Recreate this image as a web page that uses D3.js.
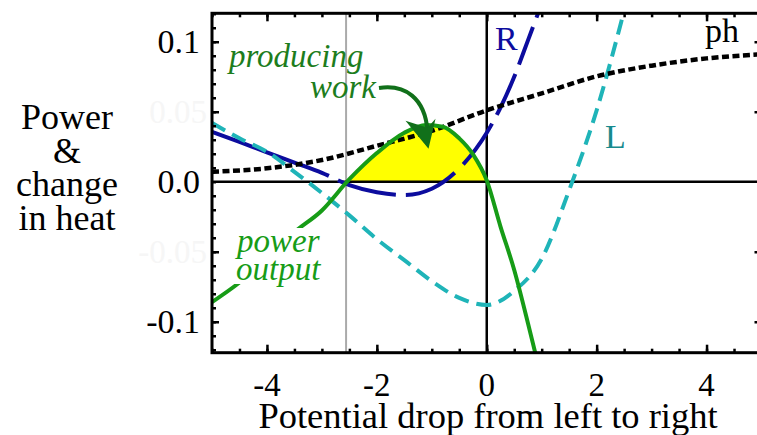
<!DOCTYPE html>
<html><head><meta charset="utf-8">
<script src="https://cdn.jsdelivr.net/npm/d3@7"></script>
<style>body{margin:0;background:#fff}svg{display:block}text{font-family:"Liberation Serif","Times New Roman",serif}</style>
</head><body><svg id="c" width="757" height="435"></svg>
<script>
// ---- data ----
const phX=[-5,-4,-3,-2,-1,0,1,2,3,4,5];
const phY=[0.0071,0.0096,0.0155,0.0257,0.0364,0.051,0.0631,0.0753,0.0829,0.0881,0.091];
const lX=[-5,-4.5,-4,-3.5,-3,-2.5,-2,-1.5,-1,-0.5,0,0.5,1,1.5,2,2.5];
const lY=[0.042,0.031,0.0214,0.0071,-0.008,-0.024,-0.041,-0.056,-0.071,-0.083,-0.088,-0.078,-0.055,-0.006,0.051,0.122];
const rX=[-5,-4.5,-4,-3.5,-3,-2.5,-2,-1.5,-1,-0.5,0,0.25,0.5,0.75,0.95];
const rY=[0.0357,0.0284,0.021,0.0137,0.0064,-0.0024,-0.0075,-0.0095,-0.005,0.0095,0.035,0.053,0.075,0.101,0.122];
const pX=[-5,-4.5,-4,-3.5,-3,-2.5,-2,-1.5,-1.1,-0.8,-0.5,-0.25,0,0.25,0.5,0.75,0.9];
const pY=[-0.086,-0.072,-0.055,-0.036,-0.0205,0.0018,0.0205,0.035,0.0405,0.0393,0.031,0.0196,0.001,-0.032,-0.063,-0.101,-0.125];
const xTicks=[-4,-2,0,2,4];
const yTickVals=[0.1,0,-0.1];
const yTickLabels=["0.1","0.0","-0.1"];
const ghostVals=[0.05,-0.05];
const ghostLabels=["0.05","-0.05"];
const markX=-2.56;
const yTitle=["Power","&","change","in heat"];
const xTitle="Potential drop from left to right";

// ---- layout ----
const svg=d3.select("#c");
const x=d3.scaleLinear().domain([-5,5]).range([212,761.5]);
const y=d3.scaleLinear().domain([-0.1221,0.1203]).range([352.7,13.3]);
const L=x.range()[0],R=x.range()[1],T=y.range()[1],B=y.range()[0];
const toPts=(xs,ys)=>xs.map((v,i)=>[v,ys[i]]);

svg.append("defs").append("clipPath").attr("id","clip").append("rect")
  .attr("x",L).attr("y",T).attr("width",R-L).attr("height",B-T);
svg.append("clipPath").attr("id","clipPos").append("rect")
  .attr("x",L).attr("y",T).attr("width",R-L).attr("height",y(0)-T);

const plot=svg.append("g").attr("clip-path","url(#clip)");
const line=d3.line().x(d=>x(d[0])).y(d=>y(d[1])).curve(d3.curveMonotoneX);

// yellow area (green above zero)
plot.append("g").attr("clip-path","url(#clipPos)").append("path")
  .datum(toPts(pX,pY))
  .attr("d",d3.area().x(d=>x(d[0])).y0(y(0)).y1(d=>y(d[1])).curve(d3.curveMonotoneX))
  .attr("fill","#ffff00");

// grey marker line
plot.append("line").attr("x1",x(markX)).attr("x2",x(markX)).attr("y1",T).attr("y2",B)
  .attr("stroke","#aaaaaa").attr("stroke-width",2);
// zero lines
plot.append("line").attr("x1",L).attr("x2",R).attr("y1",y(0)).attr("y2",y(0)).attr("stroke","#000").attr("stroke-width",2.5);
plot.append("line").attr("x1",x(0)).attr("x2",x(0)).attr("y1",T).attr("y2",B).attr("stroke","#000").attr("stroke-width",2.5);

plot.append("path").datum(toPts(rX,rY)).attr("d",line).attr("fill","none")
  .attr("stroke","#0c0c9e").attr("stroke-width",4).attr("stroke-dasharray","125,10,60,10,55,12,50,10,45,10,40,10");
plot.append("path").datum(toPts(lX,lY)).attr("d",line).attr("fill","none")
  .attr("stroke","#1fb4b8").attr("stroke-width",4).attr("stroke-dasharray","15,8");
plot.append("path").datum(toPts(phX,phY)).attr("d",line).attr("fill","none")
  .attr("stroke","#000").attr("stroke-width",4.5).attr("stroke-dasharray","7,3.5");
plot.append("path").datum(toPts(pX,pY)).attr("d",line).attr("fill","none")
  .attr("stroke","#179c17").attr("stroke-width",4);

// frame and ticks
const ax=svg.append("g");
function ticks(axisFn,scale,vals,size,tr){
  ax.append("g").attr("transform",tr).call(axisFn(scale).tickValues(vals).tickSize(size).tickFormat(""))
    .call(g=>g.select(".domain").remove())
    .call(g=>g.selectAll("line").attr("stroke","#000").attr("stroke-width",2.5));
}
const xMinor=d3.range(-5,5.01,0.5), xMajor=d3.range(-4,4.01,2);
const yMinor=d3.range(-12,13,1).map(v=>v/100), yMajor=[-0.1,-0.05,0.05,0.1];
ticks(d3.axisBottom,x,xMinor,-4,`translate(0,${B})`);
ticks(d3.axisBottom,x,xMajor,-8,`translate(0,${B})`);
ticks(d3.axisTop,x,xMinor,-4,`translate(0,${T})`);
ticks(d3.axisTop,x,xMajor,-8,`translate(0,${T})`);
ticks(d3.axisLeft,y,yMinor,-4,`translate(${L},0)`);
ticks(d3.axisLeft,y,yMajor,-7,`translate(${L},0)`);
ticks(d3.axisRight,y,yMajor,-7,`translate(${R},0)`);
svg.append("rect").attr("x",L).attr("y",T).attr("width",R-L).attr("height",B-T)
  .attr("fill","none").attr("stroke","#000").attr("stroke-width",3);

// faint ghost y labels
svg.selectAll(".gl").data(ghostVals).join("text").attr("class","gl")
  .attr("x",207).attr("y",d=>y(d)+11).attr("text-anchor","end").attr("font-size",33)
  .attr("fill","#f6f6f6").text((d,i)=>ghostLabels[i]);
// y labels
svg.selectAll(".yl").data(yTickVals).join("text").attr("class","yl")
  .attr("x",200).attr("y",d=>y(d)+11).attr("text-anchor","end").attr("font-size",34)
  .attr("fill","#000").text((d,i)=>yTickLabels[i]);
// x labels
svg.selectAll(".xl").data(xTicks).join("text").attr("class","xl")
  .attr("x",d=>x(d)).attr("y",396).attr("text-anchor","middle").attr("font-size",33)
  .attr("fill","#000").text(d=>String(d));
svg.append("text").attr("x",488).attr("y",428).attr("text-anchor","middle").attr("font-size",36.5).text(xTitle);
svg.selectAll(".yt").data(yTitle).join("text").attr("class","yt")
  .attr("x",67).attr("y",(d,i)=>129+i*33.5).attr("text-anchor","middle").attr("font-size",36).text(d=>d);

// annotations
const ann=svg.append("g").attr("font-style","italic").attr("font-size",33);
const po=ann.append("g");
po.append("rect").attr("x",234).attr("y",228).attr("width",92).attr("height",56).attr("fill","#fff");
po.append("text").attr("x",237).attr("y",252).attr("fill","#179c17").text("power");
po.append("text").attr("x",236).attr("y",280).attr("fill","#179c17").text("output");
ann.append("text").attr("x",229).attr("y",67).attr("fill","#1d7d1d").text("producing");
ann.append("text").attr("x",310).attr("y",98).attr("fill","#1d7d1d").text("work");

// arrow
const tip=[x(-1.06),y(0.0235)];
svg.append("path").attr("d",`M379,88 C405,84 425,98 ${tip[0]-1},${tip[1]-18}`)
  .attr("fill","none").attr("stroke","#11701a").attr("stroke-width",4);
svg.append("path").attr("d",`M${tip[0]},${tip[1]} L${tip[0]+7},${tip[1]-30} L${tip[0]-1},${tip[1]-21} L${tip[0]-23},${tip[1]-28} Z`)
  .attr("fill","#11701a");

svg.append("text").attr("x",495).attr("y",50).attr("font-size",34).attr("fill","#0c0c9e").text("R");
svg.append("text").attr("x",605).attr("y",148).attr("font-size",34).attr("fill","#178a8e").text("L");
svg.append("text").attr("x",705).attr("y",42).attr("font-size",34).attr("fill","#000").text("ph");
</script></body></html>
